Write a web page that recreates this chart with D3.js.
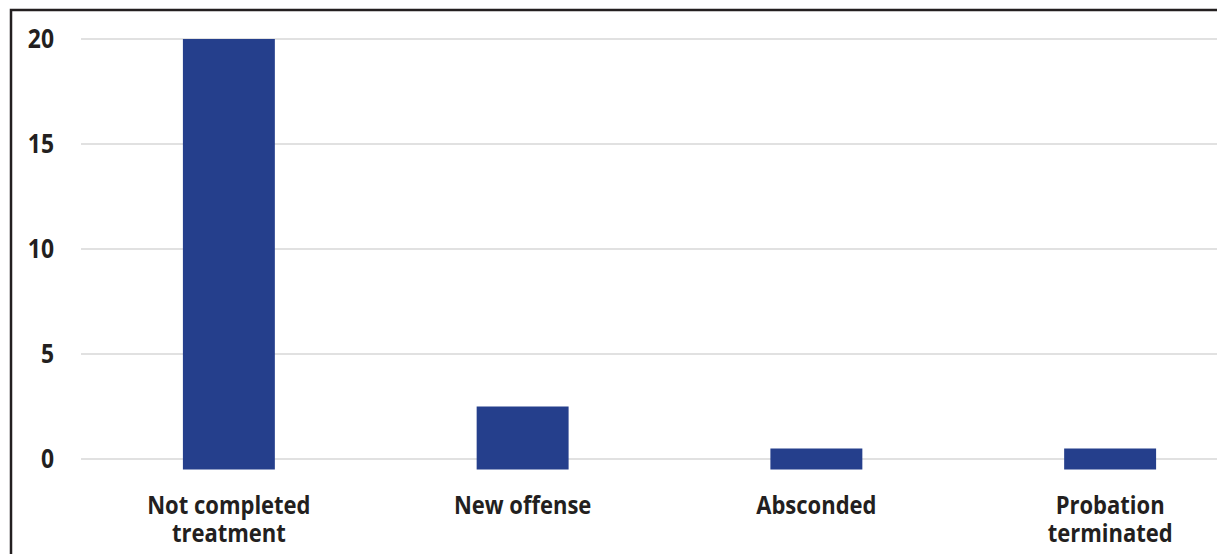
<!DOCTYPE html>
<html>
<head>
<meta charset="utf-8">
<script src="https://cdn.jsdelivr.net/npm/d3@7"></script>
<style>
  body { margin: 0; background: #fff; }
  svg { display: block; }
  .tick text, .cat { font-family: "Open Sans", sans-serif; font-weight: 700; fill: #231f20; }
</style>
</head>
<body>
<div class="canva"></div>
<script>
// data
const categories = [["Not completed", "treatment"], ["New offense"], ["Absconded"], ["Probation", "terminated"]];
const values = [20, 2.5, 0.5, 0.5];
const tickValues = [0, 5, 10, 15, 20];
const barBase = -0.5; // bars hang a little below the zero line in the original

const width = 1217, height = 554;
const squeeze = 0.88; // the original uses a condensed face

const svg = d3.select(".canva").append("svg")
  .attr("width", width)
  .attr("height", height);

// frame (cropped at right and bottom)
svg.append("path")
  .attr("d", `M11,${height} V10 H${width}`)
  .attr("fill", "none")
  .attr("stroke", "#231f20")
  .attr("stroke-width", 2.5);

const y = d3.scaleLinear()
  .domain([0, 20])
  .range([459, 39]);

const x = d3.scaleBand()
  .domain(d3.range(categories.length))
  .range([82, 1257])
  .paddingInner(0.687)
  .paddingOuter(0.3435);

// gridlines
svg.append("g")
  .selectAll("line")
  .data(tickValues)
  .join("line")
  .attr("x1", 81)
  .attr("x2", width)
  .attr("y1", d => y(d))
  .attr("y2", d => y(d))
  .attr("stroke", "#e1e1e1")
  .attr("stroke-width", 2);

// y tick labels
const yAxis = svg.append("g")
  .attr("transform", "translate(54,0)")
  .call(d3.axisLeft(y).tickValues(tickValues).tickSize(0).tickPadding(0));
yAxis.select(".domain").remove();
yAxis.selectAll(".tick text")
  .attr("font-size", 26)
  .attr("font-family", null)
  .attr("x", null)
  .attr("transform", `scale(${squeeze},1)`);

// bars
svg.append("g")
  .selectAll("rect")
  .data(values)
  .join("rect")
  .attr("x", (d, i) => x(i))
  .attr("width", x.bandwidth())
  .attr("y", d => y(d))
  .attr("height", d => y(barBase) - y(d))
  .attr("fill", "#253f8c");

// category labels
const labels = svg.append("g")
  .selectAll("text")
  .data(categories)
  .join("text")
  .attr("class", "cat")
  .attr("text-anchor", "middle")
  .attr("font-size", 25)
  .attr("transform", (d, i) => `translate(${x(i) + x.bandwidth() / 2},514) scale(${squeeze},1)`);

labels.selectAll("tspan")
  .data(d => d)
  .join("tspan")
  .attr("x", 0)
  .attr("dy", (d, i) => i === 0 ? 0 : 28)
  .text(d => d);
</script>
</body>
</html>
